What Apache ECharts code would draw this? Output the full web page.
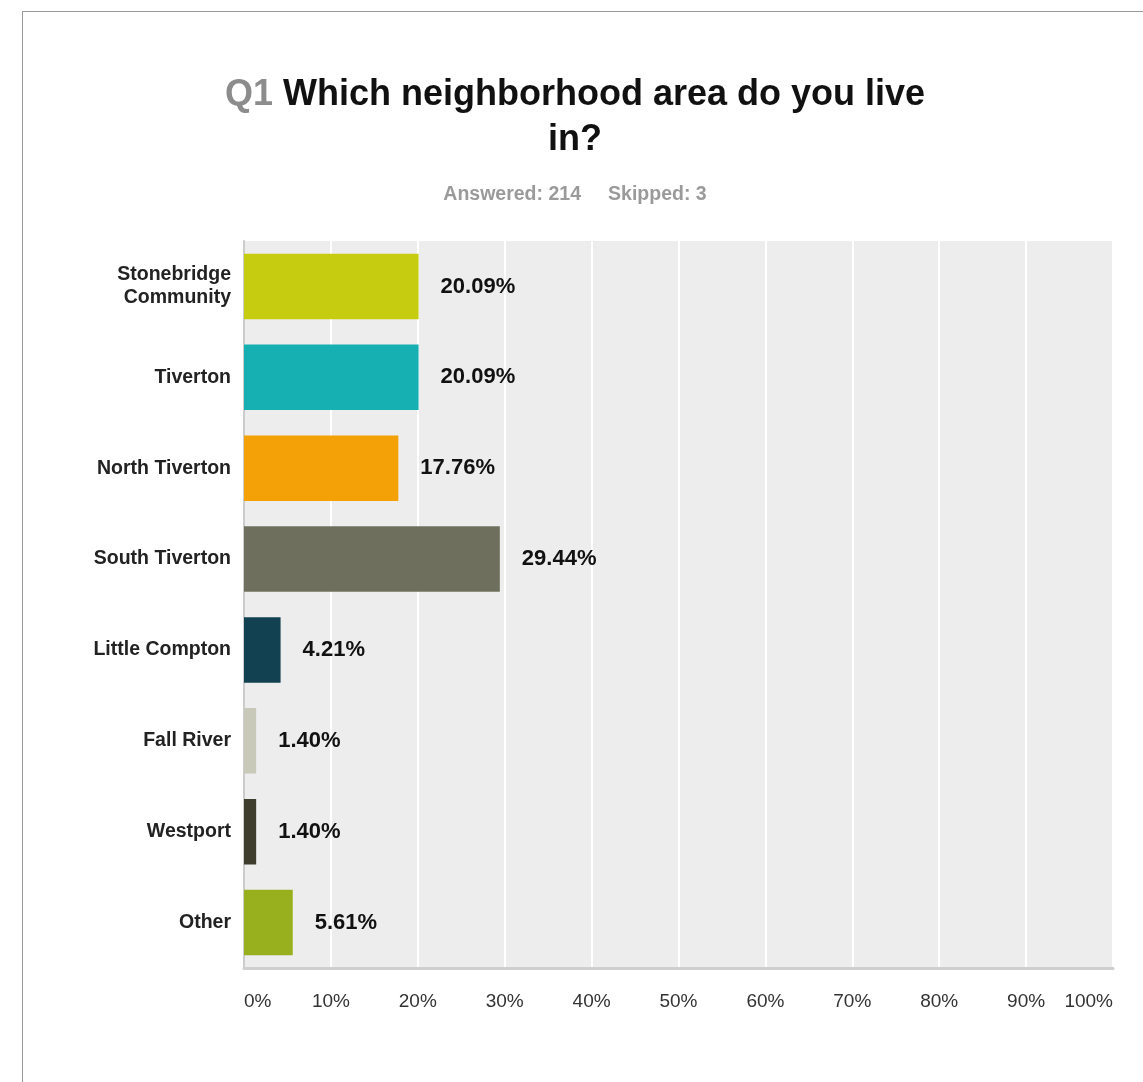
<!DOCTYPE html>
<html>
<head>
<meta charset="utf-8">
<script src="https://cdn.jsdelivr.net/npm/echarts@6/dist/echarts.min.js"></script>
<style>
html,body{margin:0;padding:0;background:#fff;overflow:hidden;}
#chart{position:absolute;left:0;top:0;width:1143px;height:1082px;}
#frame{position:absolute;left:22px;top:11px;width:1200px;height:1200px;border-top:1px solid #9a9a9a;border-left:1px solid #9a9a9a;pointer-events:none;}
</style>
</head>
<body>
<div id="chart"></div>
<div id="frame"></div>
<script>
const categories = ['Stonebridge\nCommunity', 'Tiverton', 'North Tiverton', 'South Tiverton', 'Little Compton', 'Fall River', 'Westport', 'Other'];
const values = [20.09, 20.09, 17.76, 29.44, 4.21, 1.40, 1.40, 5.61];
const barColors = ['#c6cd10', '#16b0b3', '#f4a007', '#6e705d', '#124251', '#c9c9b9', '#3f3e2e', '#98b01e'];
const xTicks = [0, 10, 20, 30, 40, 50, 60, 70, 80, 90, 100];

const chart = echarts.init(document.getElementById('chart'));
const FONT = '"Liberation Sans", Arial, Helvetica, sans-serif';
chart.setOption({
  animation: false,
  textStyle: { fontFamily: FONT },
  title: [
    {
      left: 575, top: 77, textAlign: 'center', padding: 0,
      text: '{q|Q1}  {b|Which neighborhood area do you live}',
      textStyle: {
        rich: {
          q: { fontSize: 36, color: '#8c8c8c', fontFamily: FONT, fontWeight: 'bold' },
          b: { fontSize: 36, color: '#111', fontFamily: FONT, fontWeight: 'bold' }
        }
      }
    },
    {
      left: 575, top: 122, textAlign: 'center', padding: 0,
      text: 'in?',
      textStyle: { fontSize: 36, color: '#111', fontFamily: FONT, fontWeight: 'bold' }
    },
    {
      left: 575, top: 185, textAlign: 'center', padding: 0,
      text: 'Answered: 214     Skipped: 3',
      textStyle: { fontSize: 19.5, color: '#9a9a9a', fontFamily: FONT, fontWeight: 'bold' }
    }
  ],
  grid: {
    left: 244, right: 30, top: 241, bottom: 114,
    show: true, backgroundColor: '#ededed', borderWidth: 0
  },
  xAxis: {
    type: 'value', min: xTicks[0], max: xTicks[xTicks.length - 1], interval: 10,
    axisLine: { show: true, lineStyle: { color: '#cfcfcf', width: 3 } },
    axisTick: { show: false },
    splitLine: { show: true, lineStyle: { color: '#ffffff', width: 2 } },
    axisLabel: {
      formatter: '{value}%', color: '#333', fontSize: 19, margin: 24,
      fontFamily: FONT, alignMinLabel: 'left', alignMaxLabel: 'right'
    }
  },
  yAxis: {
    type: 'category', data: categories, inverse: true,
    axisLine: { show: true, lineStyle: { color: '#cccccc', width: 2 } },
    axisTick: { show: false },
    splitLine: { show: false },
    axisLabel: {
      color: '#222', fontSize: 19.5, fontWeight: 'bold', margin: 13,
      fontFamily: FONT, lineHeight: 23, align: 'right'
    }
  },
  series: [{
    type: 'bar',
    barCategoryGap: '28%',
    data: values.map((v, i) => ({ value: v, itemStyle: { color: barColors[i] } })),
    label: {
      show: true, position: 'right', distance: 22,
      formatter: p => p.value.toFixed(2) + '%',
      color: '#111', fontSize: 22, fontWeight: 'bold', fontFamily: FONT
    }
  }]
});
</script>
</body>
</html>
